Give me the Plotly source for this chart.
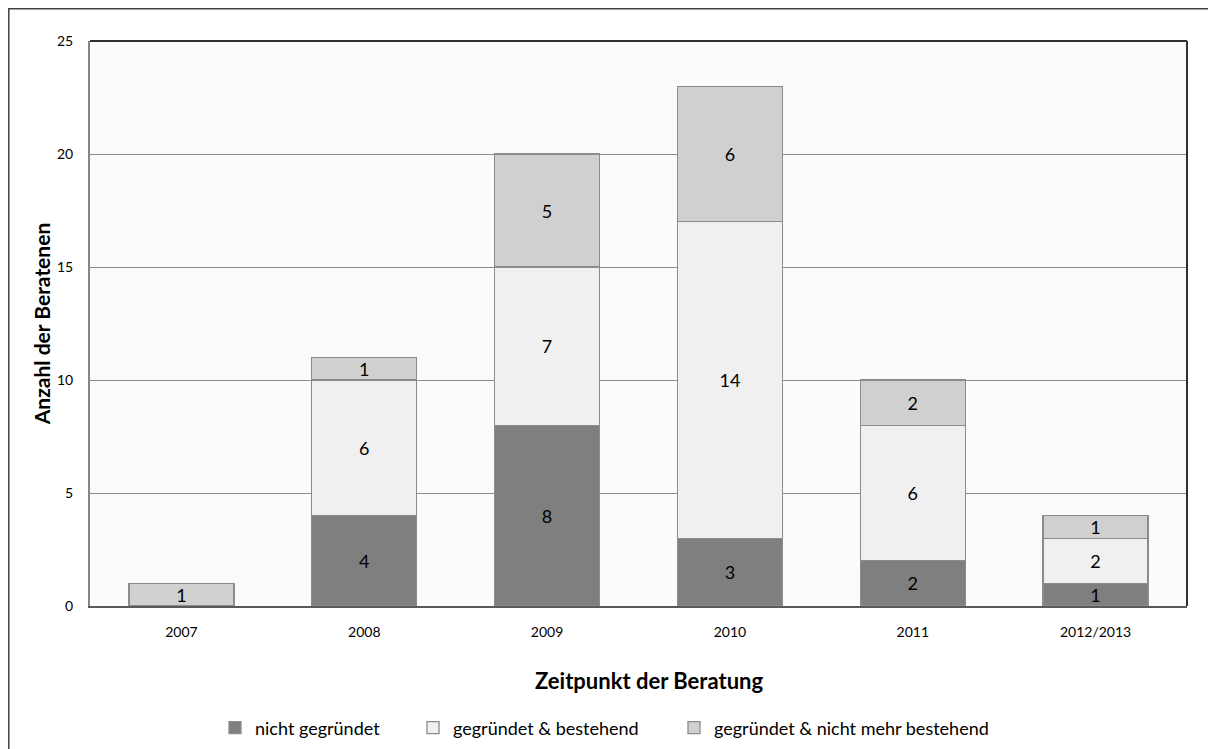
import plotly.graph_objects as go

categories = ["2007", "2008", "2009", "2010", "2011", "2012/2013"]
nicht_gegruendet = [0, 4, 8, 3, 2, 1]
gegruendet_bestehend = [0, 6, 7, 14, 6, 2]
gegruendet_nicht_mehr = [1, 1, 5, 6, 2, 1]
series_names = ["nicht gegründet", "gegründet & bestehend", "gegründet & nicht mehr bestehend"]
y_ticks = [0, 5, 10, 15, 20, 25]

colors = ["#7f7f7f", "#f0f0f0", "#d0d0d0"]
FONT = "Lato"
legend_ids = ["legend", "legend2", "legend3"]

fig = go.Figure()
for name, vals, col, lg in zip(series_names, [nicht_gegruendet, gegruendet_bestehend, gegruendet_nicht_mehr],
                               colors, legend_ids):
    fig.add_trace(go.Bar(
        x=categories, y=vals, name=name, legend=lg,
        marker=dict(color=col, line=dict(color="#8c8c8c", width=1.3)),
        text=[str(v) if v else "" for v in vals],
        textposition="inside", insidetextanchor="middle",
        textangle=0, constraintext="none",
        textfont=dict(family=FONT, size=18, color="#000000"),
        width=0.574,
    ))

# page body has an 8px margin; compensate so the plot lands where the reference has it
OFF = 8
W, H = 1216 - OFF, 749 - OFF
L, R, T, B = 90 - OFF, 29, 41 - OFF, 143
pw, ph = W - L - R, H - T - B


def page_x_to_container(px):
    return (px - OFF) / W


def page_y_to_container(py):
    return 1 - (py - OFF) / H


legend_lefts = [215, 413, 674]  # page x of each legend box's left edge
legend_cfg = {}
for lg, lx in zip(legend_ids, legend_lefts):
    legend_cfg[lg] = dict(
        orientation="h", xref="container", yref="container",
        x=page_x_to_container(lx), xanchor="left",
        y=page_y_to_container(728), yanchor="middle",
        font=dict(family=FONT, size=18), itemwidth=30,
        bgcolor="rgba(0,0,0,0)",
    )

fig.update_layout(
    barmode="stack",
    width=W, height=H,
    margin=dict(l=L, r=R, t=T, b=B, autoexpand=False),
    paper_bgcolor="white",
    plot_bgcolor="#fbfbf9",
    font=dict(family=FONT, color="#000000"),
    showlegend=True,
    **legend_cfg,
    xaxis=dict(
        type="category",
        showgrid=False,
        showline=True, linecolor="#595959", linewidth=2,
        ticks="", tickfont=dict(family=FONT, size=14), ticklabelstandoff=12,
        automargin=False,
    ),
    yaxis=dict(
        range=[0, 25], tickvals=y_ticks,
        showgrid=True, gridcolor="#8c8c8c", gridwidth=1,
        showline=True, linecolor="#868686", linewidth=2,
        ticks="", tickfont=dict(family=FONT, size=14), ticklabelstandoff=12,
        zeroline=False, automargin=False,
        title=dict(text="<b>Anzahl der Beratenen</b>", font=dict(family=FONT, size=21), standoff=1),
    ),
    annotations=[dict(
        text="<b>Zeitpunkt der Beratung</b>", xref="paper", yref="paper",
        x=(649 - 90) / (1216 - 90 - 29), y=-(680 - 606) / ph,
        xanchor="center", yanchor="middle", showarrow=False,
        font=dict(family=FONT, size=22, color="#000000"),
    )],
)

# plot top and right border
fig.add_shape(type="line", xref="paper", yref="paper", x0=0, x1=1, y0=1, y1=1,
              line=dict(color="#303030", width=2))
fig.add_shape(type="line", xref="paper", yref="paper", x0=1, x1=1, y0=0, y1=1,
              line=dict(color="#303030", width=2))
# outer chart border (just inside the figure's top-left corner)
x_left = (8.8 - 90) / pw
y_top = (606 - 8.8) / ph
fig.add_shape(type="rect", xref="paper", yref="paper", x0=x_left, x1=1.2, y0=-0.5, y1=y_top,
              line=dict(color="#404040", width=1.5), fillcolor="rgba(0,0,0,0)")

fig.write_html("out.html")
